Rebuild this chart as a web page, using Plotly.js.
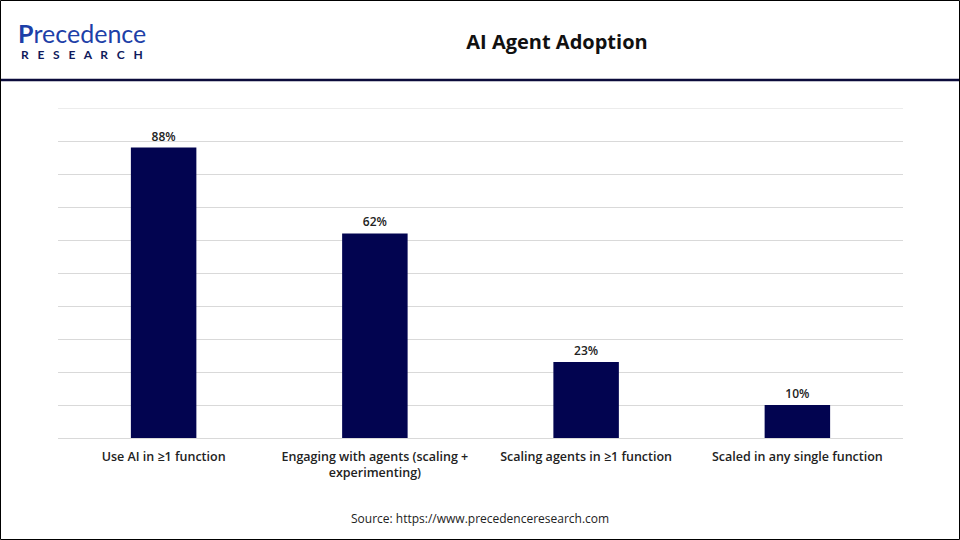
<!DOCTYPE html>
<html>
<head>
<meta charset="utf-8">
<script src="https://cdn.plot.ly/plotly-3.0.1.min.js"></script>
<style>html,body{margin:0;padding:0;background:#fff;}#chart{width:960px;height:540px;}</style>
</head>
<body>
<div id="chart"></div>
<script>
const categories = ["Use AI in ≥1 function", "Engaging with agents (scaling +<br>experimenting)", "Scaling agents in ≥1 function", "Scaled in any single function"];
const values = [88, 62, 23, 10];
const valueLabels = ["88%", "62%", "23%", "10%"];
const yMax = 100;

const L = 58, R = 903, T = 108, B = 438;
const W = R - L, H = B - T;
const px = p => (p - L) / W;
const py = p => (B - p) / H;
const sp = '&nbsp;&nbsp;&nbsp;';

const trace = {
  type: 'bar',
  x: categories,
  y: values,
  text: valueLabels,
  textposition: 'outside',
  cliponaxis: false,
  textfont: {family: 'Open Sans, sans-serif', size: 12, color: '#222', weight: 600},
  marker: {color: '#020450'},
  width: 0.31,
  hoverinfo: 'none'
};

const layout = {
  width: 960, height: 540,
  margin: {l: L, r: 960 - R, t: T, b: 540 - B},
  paper_bgcolor: '#fff', plot_bgcolor: '#fff',
  showlegend: false,
  title: {text: 'AI Agent Adoption', x: 557/960, xanchor: 'center', y: 1 - 42/540, yanchor: 'middle',
          font: {family: 'Open Sans, sans-serif', size: 20, color: '#111', weight: 700}},
  xaxis: {
    showgrid: false, showline: false, zeroline: false, ticks: '',
    tickfont: {family: 'Open Sans, sans-serif', size: 12.5, color: '#222', weight: 600},
    ticklabelstandoff: 9, fixedrange: true
  },
  yaxis: {
    range: [0, yMax], dtick: 10, showticklabels: false, showgrid: true,
    gridcolor: '#d9d9d9', gridwidth: 1, zeroline: true, zerolinecolor: '#d9d9d9', zerolinewidth: 1,
    showline: false, ticks: '', fixedrange: true
  },
  shapes: [
    {type: 'line', xref: 'paper', yref: 'y', x0: 0, x1: 1, y0: yMax, y1: yMax, layer: 'below',
     line: {color: '#d9d9d9', width: 1}},
    {type: 'rect', xref: 'paper', yref: 'paper', x0: px(0.5), x1: px(959.5), y0: py(0.5), y1: py(539.5),
     line: {color: '#000', width: 1}, fillcolor: 'rgba(0,0,0,0)'},
    {type: 'line', xref: 'paper', yref: 'paper', x0: px(1), x1: px(959), y0: py(80), y1: py(80),
     line: {color: '#0b0b3b', width: 2.5}}
  ],
  annotations: [
    {xref: 'paper', yref: 'paper', x: px(16), y: py(33), xanchor: 'left', yanchor: 'middle', showarrow: false,
     text: '<b>P</b>recedence', font: {family: 'Lato, sans-serif', size: 25, color: '#1d3fa8'}},
    {xref: 'paper', yref: 'paper', x: px(19), y: py(55), xanchor: 'left', yanchor: 'middle', showarrow: false,
     text: ['R','E','S','E','A','R','C','H'].join(sp), font: {family: 'Lato, sans-serif', size: 12, color: '#0f1a5c', weight: 700}},
    {xref: 'paper', yref: 'paper', x: px(480), y: py(518), xanchor: 'center', yanchor: 'middle', showarrow: false,
     text: 'Source: https://www.precedenceresearch.com', font: {family: 'Open Sans, sans-serif', size: 12, color: '#222'}}
  ]
};

Plotly.newPlot('chart', [trace], layout, {displayModeBar: false, staticPlot: true});
</script>
</body>
</html>
